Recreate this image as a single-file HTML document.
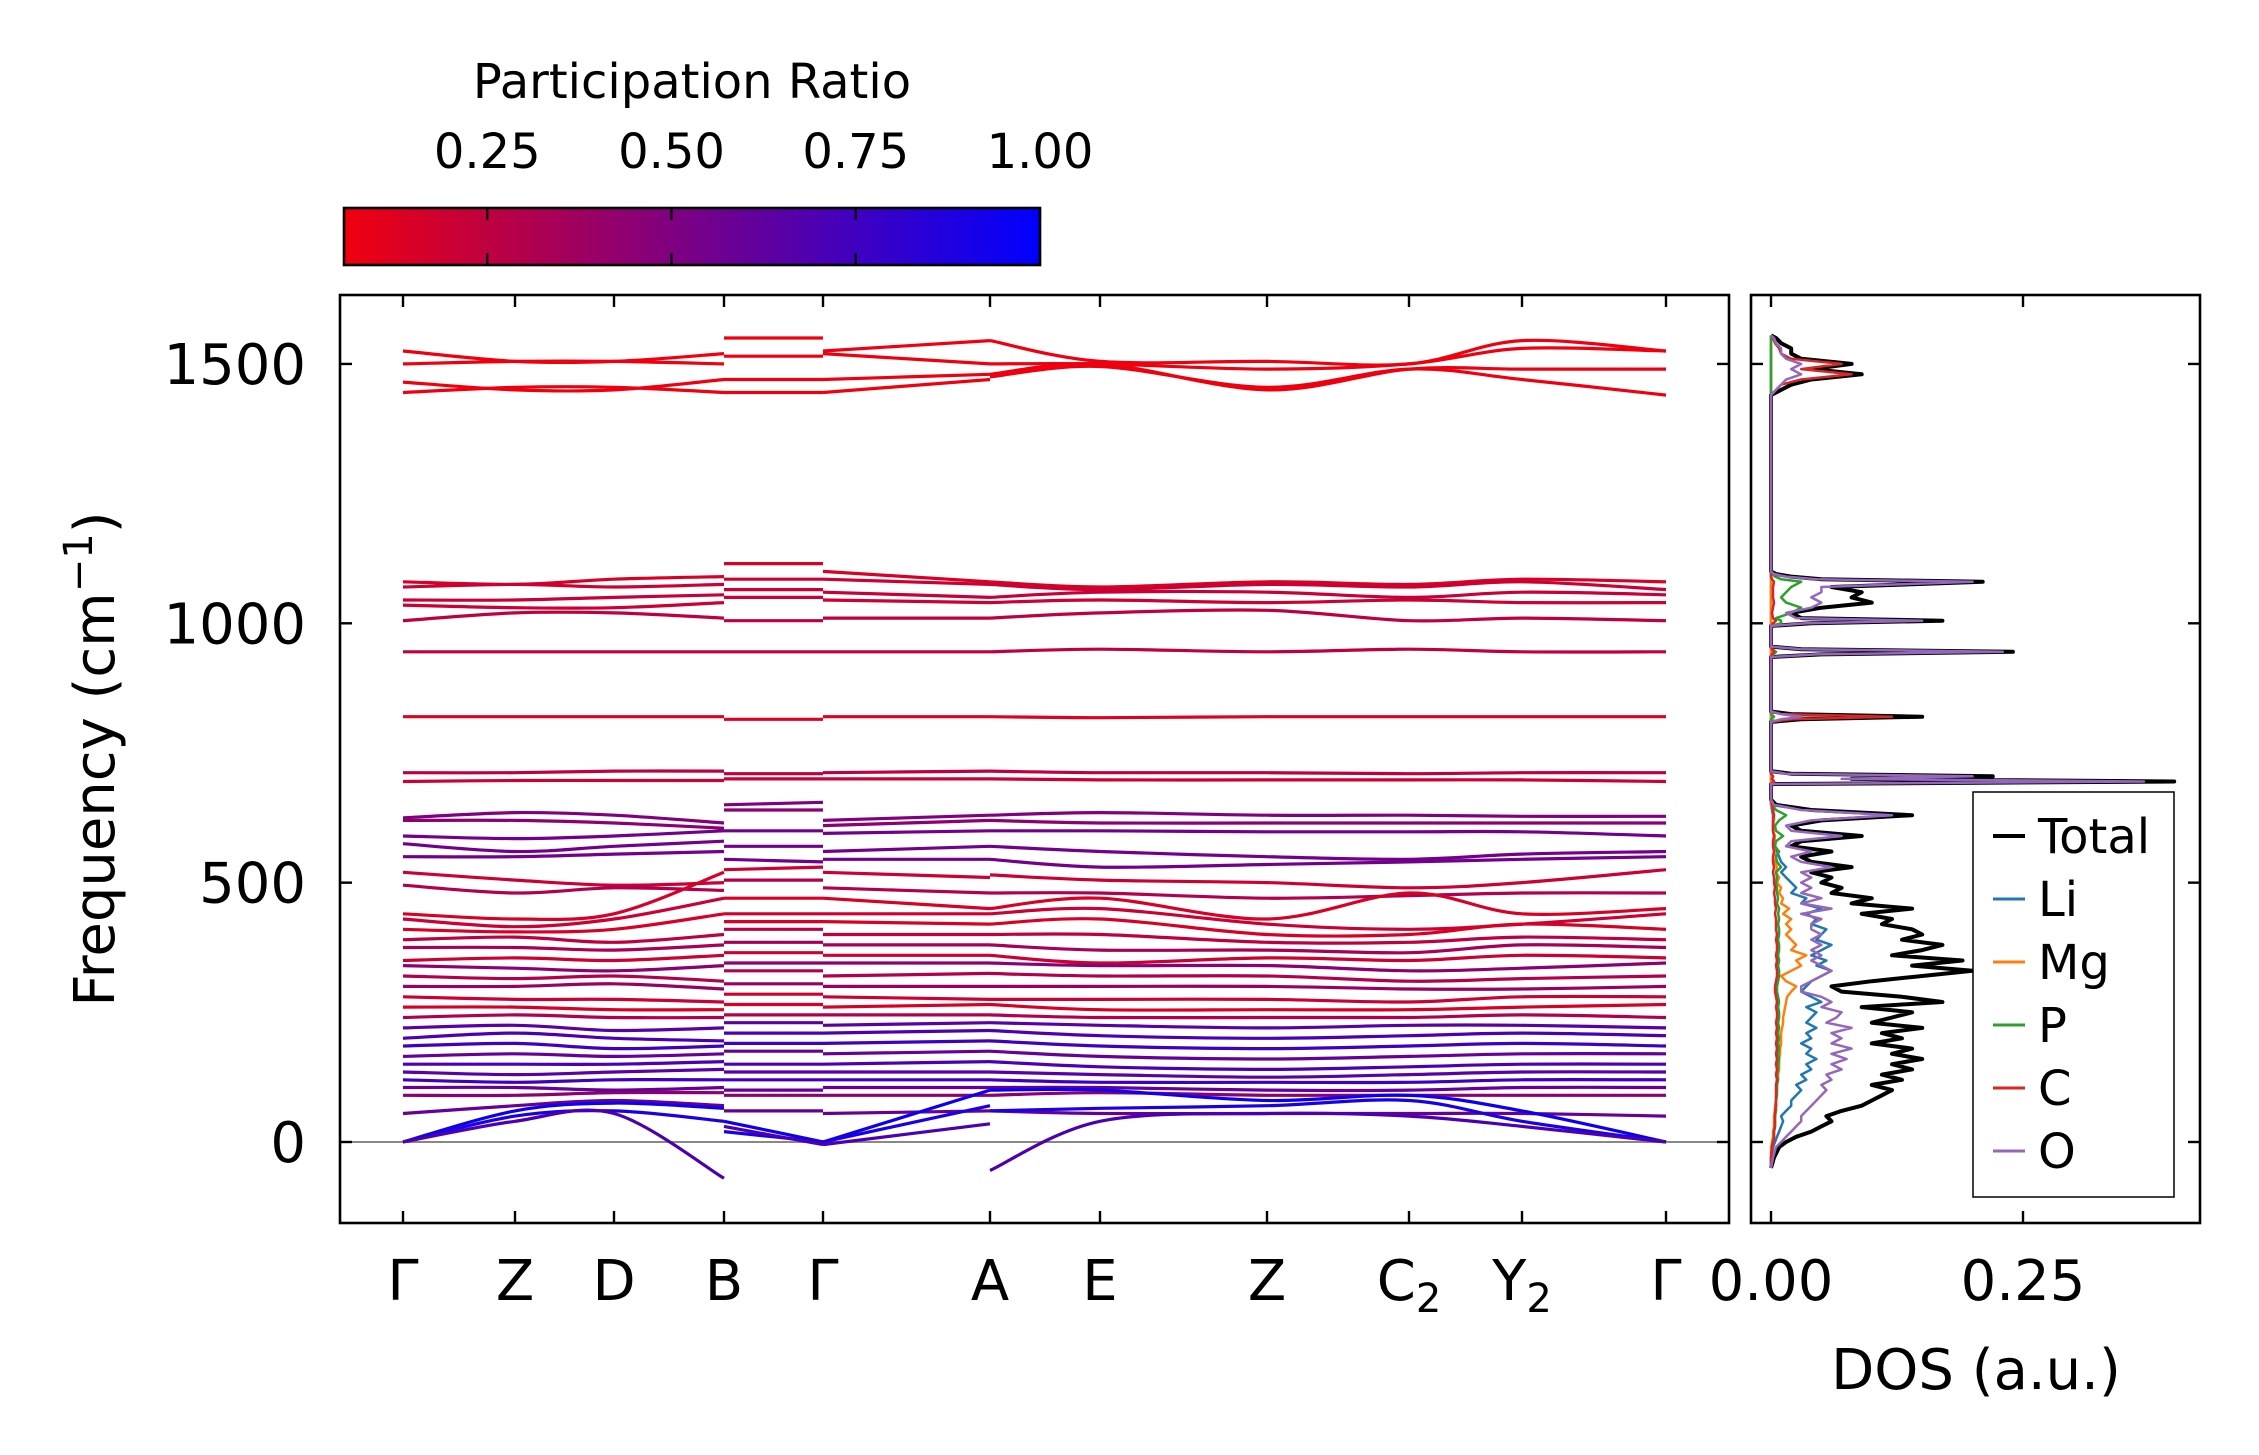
<!DOCTYPE html>
<html><head><meta charset="utf-8"><style>
html,body{margin:0;padding:0;background:#fff;}
svg{display:block;font-family:"DejaVu Sans","Liberation Sans",sans-serif;}
</style></head><body>
<svg id="chart" width="2259" height="1455" viewBox="0 0 2259 1455" xmlns="http://www.w3.org/2000/svg">
<defs>
<linearGradient id="cbgrad" x1="0" x2="1" y1="0" y2="0">
<stop offset="0" stop-color="rgb(240,0,15)"/>
<stop offset="1" stop-color="rgb(0,0,255)"/>
</linearGradient>
<clipPath id="mainclip"><rect x="340" y="295" width="1389" height="928"/></clipPath>
<clipPath id="dosclip"><rect x="1751" y="295" width="449" height="928"/></clipPath>
</defs>
<g id="bands" clip-path="url(#mainclip)"></g>
<g id="dos" clip-path="url(#dosclip)"></g>
<g id="axes"></g>
</svg>
<script>
const kLabels = ["Γ","Z","D","B","Γ","A","E","Z","C2","Y2","Γ"];
const kPos = [0, 1.12, 2.11, 3.21, 4.20, 5.87, 6.97, 8.64, 10.06, 11.19, 12.63];
const bandVals = [
[1525,1505,1505,1520,1550,1550,1525,1545,1545,1505,1505,1500,1545,1525],
[1500,1505,1505,1500,1515,1515,1520,1500,1500,1500,1490,1500,1530,1525],
[1465,1450,1450,1470,1470,1470,1470,1480,1480,1500,1450,1490,1490,1490],
[1445,1455,1455,1445,1445,1445,1445,1470,1475,1495,1455,1490,1470,1440],
[1080,1075,1085,1090,1115,1115,1100,1080,1080,1070,1080,1075,1085,1080],
[1070,1075,1070,1075,1085,1085,1085,1075,1075,1065,1075,1070,1080,1065],
[1045,1045,1050,1055,1065,1065,1060,1050,1050,1060,1060,1050,1060,1055],
[1035,1030,1030,1040,1050,1050,1045,1040,1040,1045,1040,1045,1040,1040],
[1005,1020,1020,1010,1005,1005,1010,1010,1010,1020,1025,1005,1010,1005],
[945,945,945,945,945,945,945,945,945,950,945,950,945,945],
[820,820,820,820,815,815,820,820,820,818,820,820,820,820],
[712,712,715,715,710,710,712,715,715,712,712,710,712,712],
[695,697,697,697,700,700,700,700,700,698,698,698,698,695],
[625,635,630,615,650,655,620,630,630,635,630,630,628,628],
[620,620,615,605,640,640,610,620,620,615,615,615,615,615],
[590,585,590,600,600,600,595,600,600,600,598,598,598,590],
[575,560,570,580,570,570,560,570,570,560,550,545,555,560],
[550,550,555,560,545,540,545,545,545,530,535,540,545,550],
[520,505,495,500,525,530,520,510,515,505,500,490,500,525],
[495,480,490,485,505,505,490,480,480,480,470,475,480,480],
[440,430,440,520,470,470,470,450,450,470,430,480,440,450],
[430,415,430,470,440,440,440,440,440,450,420,410,420,440],
[410,405,410,440,425,425,425,420,420,430,400,400,420,410],
[390,395,385,400,410,410,400,400,400,400,385,385,395,390],
[375,375,370,380,385,385,380,380,380,370,370,365,380,375],
[350,355,350,360,365,365,360,360,360,345,355,350,360,355],
[340,335,330,340,345,345,345,345,345,340,340,330,335,345],
[320,315,320,310,330,330,320,325,325,320,320,310,315,320],
[300,300,305,295,305,305,300,300,300,300,300,295,295,300],
[280,275,275,270,285,285,280,275,275,275,275,270,280,280],
[260,260,255,255,265,265,260,265,265,255,255,255,260,265],
[240,245,240,240,245,245,245,245,245,240,240,240,245,240],
[220,225,215,220,230,230,225,230,230,225,220,225,225,220],
[200,210,200,195,210,210,210,215,215,205,200,205,210,205],
[185,190,180,185,190,190,190,195,195,185,180,185,190,185],
[165,170,165,170,175,175,170,175,175,165,160,165,170,170],
[150,150,150,155,150,150,150,155,155,145,140,145,150,150],
[135,130,135,140,135,135,135,135,135,130,125,130,135,135],
[120,115,120,120,120,120,120,120,120,115,115,115,120,120],
[105,105,100,105,100,100,105,105,105,105,100,100,105,105],
[90,90,95,95,90,90,90,90,90,95,90,90,90,90],
[55,70,80,70,60,60,55,60,60,55,55,55,55,50],
[0,60,75,65,40,0,0,100,100,100,80,90,60,0],
[0,50,60,40,20,0,0,70,60,65,70,80,40,0],
[0,40,55,-70,30,-5,-5,35,-55,40,55,50,30,0]
];
const bandPR = [0.06,0.06,0.06,0.06,0.15,0.2,0.22,0.2,0.25,0.25,0.12,0.25,0.2,
0.5,0.45,0.55,0.55,0.55,0.2,0.3,0.15,0.2,0.15,0.25,0.35,0.2,0.45,0.3,0.4,0.2,0.15,0.3,
0.65,0.7,0.75,0.6,0.7,0.65,0.75,0.6,0.45,0.6,0.95,0.9,0.7];

const dosFreq = [-50,-30,-10,0,10,20,30,40,50,60,70,80,90,100,110,120,130,140,150,160,170,180,190,200,210,220,230,240,250,260,270,280,290,300,310,320,330,340,350,360,370,380,390,400,410,420,430,440,450,460,470,480,490,500,510,520,530,540,550,560,570,580,590,600,610,620,630,640,650,660,690,695,700,705,710,715,720,810,815,820,825,830,935,940,945,950,955,995,1000,1005,1010,1020,1030,1040,1050,1060,1070,1080,1085,1090,1095,1100,1440,1450,1460,1470,1480,1490,1500,1510,1520,1530,1540,1550,1555];
const dosTotal = [0,0.003,0.008,0.015,0.025,0.04,0.05,0.06,0.055,0.07,0.09,0.10,0.11,0.12,0.10,0.13,0.11,0.14,0.12,0.15,0.12,0.14,0.10,0.13,0.11,0.15,0.10,0.12,0.14,0.09,0.17,0.13,0.07,0.06,0.10,0.15,0.20,0.14,0.19,0.12,0.15,0.17,0.13,0.15,0.14,0.11,0.12,0.09,0.14,0.08,0.10,0.06,0.07,0.05,0.06,0.04,0.08,0.04,0.03,0.06,0.02,0.03,0.09,0.03,0.02,0.05,0.14,0.04,0.005,0,0,0.40,0.08,0.22,0.02,0,0,0,0.03,0.15,0.02,0,0,0.05,0.24,0.03,0,0,0.04,0.17,0.03,0.02,0.05,0.10,0.08,0.09,0.06,0.21,0.05,0.02,0.005,0,0,0.01,0.02,0.04,0.09,0.04,0.08,0.03,0.02,0.02,0.01,0.005,0];
const dosO = [0,0.002,0.005,0.01,0.015,0.02,0.025,0.03,0.03,0.035,0.04,0.045,0.05,0.055,0.05,0.06,0.055,0.07,0.06,0.075,0.06,0.08,0.06,0.07,0.06,0.08,0.055,0.065,0.07,0.05,0.06,0.05,0.03,0.03,0.04,0.05,0.06,0.05,0.04,0.05,0.04,0.05,0.04,0.05,0.04,0.04,0.05,0.03,0.06,0.03,0.05,0.03,0.04,0.03,0.04,0.03,0.06,0.03,0.02,0.04,0.015,0.02,0.07,0.02,0.015,0.04,0.12,0.03,0.003,0,0,0.37,0.07,0.20,0.015,0,0,0,0.01,0.03,0.01,0,0,0.045,0.23,0.03,0,0,0.035,0.15,0.025,0.015,0.04,0.05,0.04,0.05,0.05,0.20,0.045,0.015,0.003,0,0,0.005,0.01,0.015,0.03,0.02,0.03,0.015,0.01,0.01,0.005,0.003,0];
const dosLi = [0,0,0.002,0.004,0.006,0.008,0.01,0.012,0.01,0.015,0.02,0.02,0.025,0.03,0.025,0.035,0.03,0.04,0.035,0.045,0.035,0.04,0.03,0.04,0.035,0.045,0.035,0.04,0.045,0.035,0.05,0.04,0.03,0.035,0.04,0.05,0.06,0.045,0.055,0.04,0.05,0.06,0.045,0.05,0.055,0.04,0.045,0.035,0.05,0.03,0.035,0.02,0.025,0.02,0.015,0.01,0.015,0.01,0.008,0.006,0.004,0.004,0.003,0.002,0.002,0.002,0.002,0.001,0,0,0,0,0,0,0,0,0,0,0,0,0,0,0,0,0,0,0,0,0,0,0,0,0,0,0,0,0,0,0,0,0,0,0,0,0,0,0,0,0,0,0,0,0,0,0];
const dosMg = [0,0,0,0.001,0.002,0.002,0.003,0.003,0.003,0.004,0.004,0.005,0.005,0.006,0.006,0.007,0.007,0.008,0.008,0.008,0.009,0.009,0.01,0.01,0.01,0.011,0.012,0.012,0.013,0.014,0.015,0.016,0.02,0.025,0.015,0.01,0.02,0.03,0.025,0.035,0.02,0.025,0.02,0.015,0.02,0.015,0.02,0.012,0.018,0.01,0.012,0.008,0.01,0.006,0.008,0.005,0.006,0.004,0.005,0.003,0.004,0.003,0.004,0.002,0.002,0.003,0.003,0.002,0,0,0,0,0,0,0,0,0,0,0,0,0,0,0,0,0,0,0,0,0,0,0,0,0,0,0,0,0,0,0,0,0,0,0,0,0,0,0,0,0,0,0,0,0,0,0];
const dosP = [0,0,0.001,0.002,0.003,0.003,0.004,0.004,0.004,0.005,0.005,0.005,0.006,0.006,0.006,0.007,0.006,0.007,0.007,0.008,0.007,0.008,0.007,0.008,0.007,0.008,0.007,0.008,0.008,0.007,0.008,0.007,0.006,0.006,0.007,0.008,0.008,0.007,0.008,0.007,0.008,0.008,0.007,0.008,0.008,0.007,0.008,0.007,0.008,0.006,0.007,0.006,0.006,0.005,0.006,0.005,0.01,0.006,0.005,0.008,0.004,0.005,0.012,0.005,0.004,0.008,0.015,0.005,0.001,0,0,0.003,0.001,0.002,0,0,0,0,0,0.003,0,0,0,0.002,0.005,0.001,0,0,0.01,0.01,0.005,0.02,0.03,0.015,0.01,0.015,0.02,0.03,0.01,0.004,0.001,0,0,0,0,0,0,0,0,0,0,0,0,0,0];
const dosC = [0,0,0.001,0.002,0.003,0.003,0.004,0.004,0.004,0.004,0.005,0.005,0.005,0.005,0.005,0.006,0.005,0.006,0.005,0.006,0.005,0.006,0.005,0.006,0.005,0.006,0.005,0.006,0.006,0.005,0.006,0.005,0.004,0.004,0.005,0.006,0.006,0.005,0.006,0.005,0.006,0.006,0.005,0.006,0.005,0.005,0.005,0.004,0.005,0.004,0.004,0.003,0.004,0.003,0.003,0.002,0.003,0.002,0.002,0.003,0.002,0.002,0.003,0.002,0.002,0.002,0.003,0.002,0.001,0,0,0.003,0.001,0.002,0,0,0,0,0.02,0.12,0.01,0,0,0.001,0.003,0.001,0,0,0.002,0.005,0.002,0.001,0.002,0.003,0.002,0.002,0.002,0.003,0.001,0,0,0,0,0.005,0.01,0.03,0.08,0.03,0.07,0.02,0.01,0.008,0.004,0.002,0];
const yTicks = [0,500,1000,1500];
const cbTicks = [0.25,0.50,0.75,1.00];
const dosTicks = [0.00,0.25];
const legendNames = ["Total","Li","Mg","P","C","O"];
const legendColors = ["#000000","#1f77b4","#ff7f0e","#2ca02c","#d62728","#9467bd"];

const NS = "http://www.w3.org/2000/svg";
const AX = {l:340, r:1729, t:295, b:1223};
const DX = {l:1751, r:2200, t:295, b:1223};
const kTickPx = [403,515,614,724,823,990,1100,1267,1409,1522,1666];
function yS(f){ return 1142 - f*0.5187; }
function kS(k){
  for(let i=0;i<kPos.length-1;i++){
    if(k<=kPos[i+1]){ const t=(k-kPos[i])/(kPos[i+1]-kPos[i]); return kTickPx[i]+t*(kTickPx[i+1]-kTickPx[i]); }
  }
  return kTickPx[kTickPx.length-1];
}
function dS(v){ return 1771 + v*1008; }
function cbS(v){ return 1040 - (1-v)*737; }
function prColor(v){ const r=Math.round(255*(1-v)), b=Math.round(255*v); return `rgb(${r},0,${b})`; }
function mk(tag, attrs, parent){ const e=document.createElementNS(NS,tag); for(const k in attrs) e.setAttribute(k,attrs[k]); parent.appendChild(e); return e; }
function smoothPath(pts){
  let d=`M${pts[0][0].toFixed(1)},${pts[0][1].toFixed(1)}`;
  for(let i=0;i<pts.length-1;i++){
    const p0=pts[i-1]||pts[i], p1=pts[i], p2=pts[i+1], p3=pts[i+2]||pts[i+1];
    const c1=[p1[0]+(p2[0]-p0[0])/6, p1[1]+(p2[1]-p0[1])/6];
    const c2=[p2[0]-(p3[0]-p1[0])/6, p2[1]-(p3[1]-p1[1])/6];
    d+=` C${c1[0].toFixed(1)},${c1[1].toFixed(1)} ${c2[0].toFixed(1)},${c2[1].toFixed(1)} ${p2[0].toFixed(1)},${p2[1].toFixed(1)}`;
  }
  return d;
}

const gB = document.getElementById('bands');
const zl = mk('line',{x1:AX.l,x2:AX.r,y1:yS(0),y2:yS(0),stroke:'#888',"stroke-width":2},gB);


const segs = [[[0,0],[1,1],[2,2],[3,3]], [[4,3],[5,4]], [[6,4],[7,5]], [[8,5],[9,6],[10,7],[11,8],[12,9],[13,10]]];
bandVals.forEach((vals,bi)=>{
  segs.forEach((seg,si)=>{
    const pts = seg.map(([vi,ki])=>[kS(kPos[ki]), yS(vals[vi])]);
    const p = mk('path',{d:smoothPath(pts),fill:'none',stroke:prColor(bandPR[bi]),"stroke-width":3.2},gB);
    
    
  });
});

const gD = document.getElementById('dos');
const dosSeries = [dosTotal,dosLi,dosMg,dosP,dosC,dosO];
dosSeries.forEach((arr,si)=>{
  const pts = arr.map((v,i)=>`${dS(v).toFixed(1)},${yS(dosFreq[i]).toFixed(1)}`).join(' ');
  const pl = mk('polyline',{points:pts,fill:'none',stroke:legendColors[si],"stroke-width":si===0?4:2.5,"stroke-linejoin":"round"},gD);
  
  
});

const gA = document.getElementById('axes');
function frame(b,name){
  const r = mk('rect',{x:b.l,y:b.t,width:b.r-b.l,height:b.b-b.t,fill:'none',stroke:'#000',"stroke-width":2.6},gA);
  
  
}
frame(AX,'band-axes-frame');
frame(DX,'dos-axes-frame');
const TL=12;
kTickPx.forEach((x,i)=>{
  mk('line',{x1:x,x2:x,y1:AX.b,y2:AX.b-TL,stroke:'#000',"stroke-width":2.4},gA);
  mk('line',{x1:x,x2:x,y1:AX.t,y2:AX.t+TL,stroke:'#000',"stroke-width":2.4},gA);
  const t = mk('text',{x:x,y:1300,"font-size":56,"text-anchor":"middle"},gA);
  
  
  const lab = kLabels[i];
  if(lab.length>1){
    t.textContent = lab[0];
    const s = mk('tspan',{"font-size":40,dy:12},t); s.textContent = lab[1];
  } else t.textContent = lab;
});
yTicks.forEach(v=>{
  const y=yS(v);
  [[AX.l,AX.l+TL],[AX.r,AX.r-TL],[DX.l,DX.l+TL],[DX.r,DX.r-TL]].forEach(([a,b])=>mk('line',{x1:a,x2:b,y1:y,y2:y,stroke:'#000',"stroke-width":2.4},gA));
  const t = mk('text',{x:306,y:y+20,"font-size":56,"text-anchor":"end"},gA);
  
  
  t.textContent = String(v);
});
dosTicks.forEach(v=>{
  const x=dS(v);
  mk('line',{x1:x,x2:x,y1:DX.b,y2:DX.b-TL,stroke:'#000',"stroke-width":2.4},gA);
  mk('line',{x1:x,x2:x,y1:DX.t,y2:DX.t+TL,stroke:'#000',"stroke-width":2.4},gA);
  const t = mk('text',{x:x,y:1300,"font-size":56,"text-anchor":"middle"},gA);
  
  
  t.textContent = v.toFixed(2);
});
const yl = mk('text',{x:0,y:0,"font-size":56,"text-anchor":"middle",transform:"translate(114,759) rotate(-90)"},gA);


yl.textContent='Frequency (cm';
const sup = mk('tspan',{"font-size":40,dy:-22},yl); sup.textContent='−1';
const sc = mk('tspan',{dy:22},yl); sc.textContent=')';
const dl = mk('text',{x:1976,y:1389,"font-size":56,"text-anchor":"middle"},gA);


dl.textContent='DOS (a.u.)';

const cb = mk('rect',{x:344,y:208,width:696,height:57,fill:'url(#cbgrad)',stroke:'#000',"stroke-width":2.6},gA);


cbTicks.forEach(v=>{
  const x=cbS(v);
  mk('line',{x1:x,x2:x,y1:208,y2:265,stroke:'#000',"stroke-width":2.2,"stroke-dasharray":"12 33"},gA);
  const t = mk('text',{x:x,y:168,"font-size":48,"text-anchor":"middle"},gA);
  
  
  t.textContent=v.toFixed(2);
});
const ct = mk('text',{x:692,y:98,"font-size":48,"text-anchor":"middle"},gA);


ct.textContent='Participation Ratio';

const lg = mk('g',{},gA);


mk('rect',{x:1973,y:792,width:201,height:405,fill:'#fff',stroke:'#000',"stroke-width":1.5},lg);
legendNames.forEach((n,i)=>{
  const y=836+i*63;
  const e = mk('g',{},lg);
  
  
  mk('line',{x1:1993,x2:2025,y1:y,y2:y,stroke:legendColors[i],"stroke-width":i===0?4:3},e);
  const t = mk('text',{x:2038,y:y+17,"font-size":48},e); t.textContent=n;
});
</script>
</body></html>
